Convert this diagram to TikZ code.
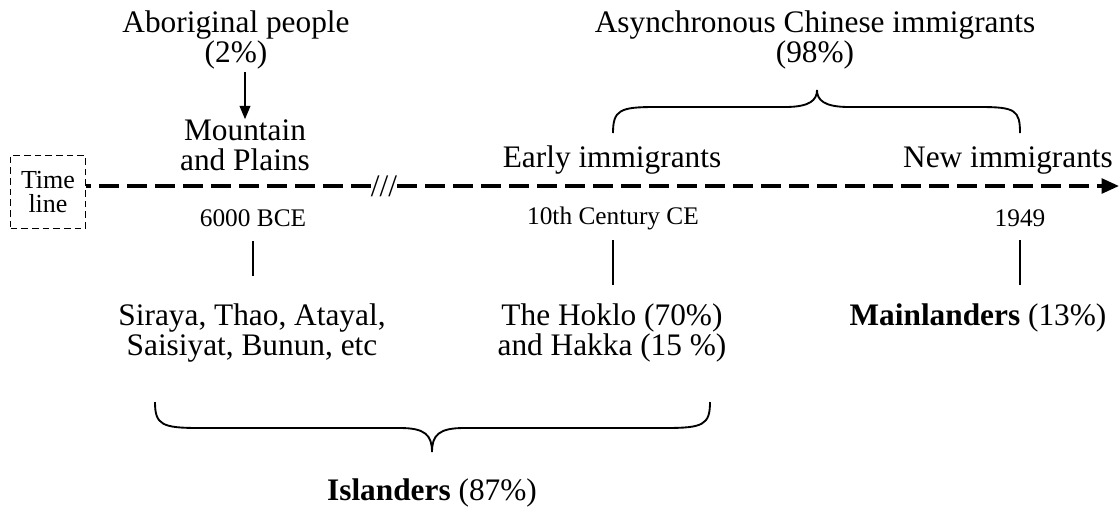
\documentclass[tikz,border=0pt]{standalone}
\usepackage{fontspec}
\setmainfont{Liberation Serif}
\usetikzlibrary{arrows.meta}
\begin{document}
\begin{tikzpicture}[x=0.75pt,y=-0.75pt,
  lbl/.style={font=\fontsize{23.5}{22.5}\selectfont, align=center, inner sep=0pt},
  datelbl/.style={font=\fontsize{19}{20}\selectfont, inner sep=0pt},
  boxlbl/.style={font=\fontsize{19.5}{18}\selectfont, align=center, draw, line width=1pt,
    dash pattern=on 5pt off 3pt, minimum width=56pt, minimum height=55pt, inner sep=0pt},
  tick/.style={line width=1.1pt},
  brace/.style={line width=1.4pt},
  timeline/.style={line width=2.6pt, dash pattern=on 15pt off 6pt},
]
\useasboundingbox (0,0) rectangle (1120,512);

% labels above the time line
\node[lbl] (abor) at (236,40) {Aboriginal people\\(2\%)};
\node[lbl] (mount) at (245,145) {Mountain\\and Plains};
\node[lbl] (asyn) at (815,40) {Asynchronous Chinese immigrants\\(98\%)};
\node[lbl] (early) at (612,160) {Early immigrants};
\node[lbl] (new) at (1008,160) {New immigrants};

\draw[line width=1.4pt, -{Triangle[length=10pt,width=8pt]}] (abor.south -| mount.north) ++(0,3) -- (mount.north);

% the time line
\node[boxlbl] (tl) at (48,192) {Time\\line};
\node[lbl] (brk) at (384,186) {///};
\coordinate (tend) at (1119,186);
\draw[timeline] (brk.west |- 0,186) -- (tl.east |- 0,186);
\draw[timeline, -{Triangle[length=13pt,width=11pt]}] (brk.east |- 0,186) -- (tend);

% dates
\node[datelbl] (d1) at (253,218) {6000 BCE};
\node[datelbl] (d2) at (613,218) {10th Century CE};
\node[datelbl] (d3) at (1020,218) {1949};

% groups below
\node[lbl] (g1) at (252,333) {Siraya, Thao, Atayal,\\Saisiyat, Bunun, etc};
\node[lbl] (g2) at (612,333) {The Hoklo (70\%)\\and Hakka (15 \%)};
\node[lbl] (g3) at (978,318) {\textbf{Mainlanders} (13\%)};
\node[lbl] (isl) at (432,493) {\textbf{Islanders} (87\%)};

\coordinate (t1a) at (253,241); \coordinate (t1b) at (253,276);
\coordinate (t2a) at (613,240); \coordinate (t2b) at (613,285);
\coordinate (t3a) at (1020,240); \coordinate (t3b) at (1020,285);
\draw[tick] (t1a) -- (t1b);
\draw[tick] (t2a) -- (t2b);
\draw[tick] (t3a) -- (t3b);

% upper brace
\draw[brace] (613,133) .. controls (613,110) and (620,107) .. (655,107)
  -- (785,107) .. controls (810,107) and (817,100) .. (817,90)
  .. controls (817,100) and (824,107) .. (849,107)
  -- (980,107) .. controls (1015,107) and (1020,110) .. (1020,133);

% lower brace
\draw[brace] (155,402) .. controls (155,425) and (162,428) .. (200,428)
  -- (400,428) .. controls (425,428) and (432,435) .. (432,452)
  .. controls (432,435) and (439,428) .. (464,428)
  -- (665,428) .. controls (703,428) and (710,425) .. (710,402);
\end{tikzpicture}
\end{document}
